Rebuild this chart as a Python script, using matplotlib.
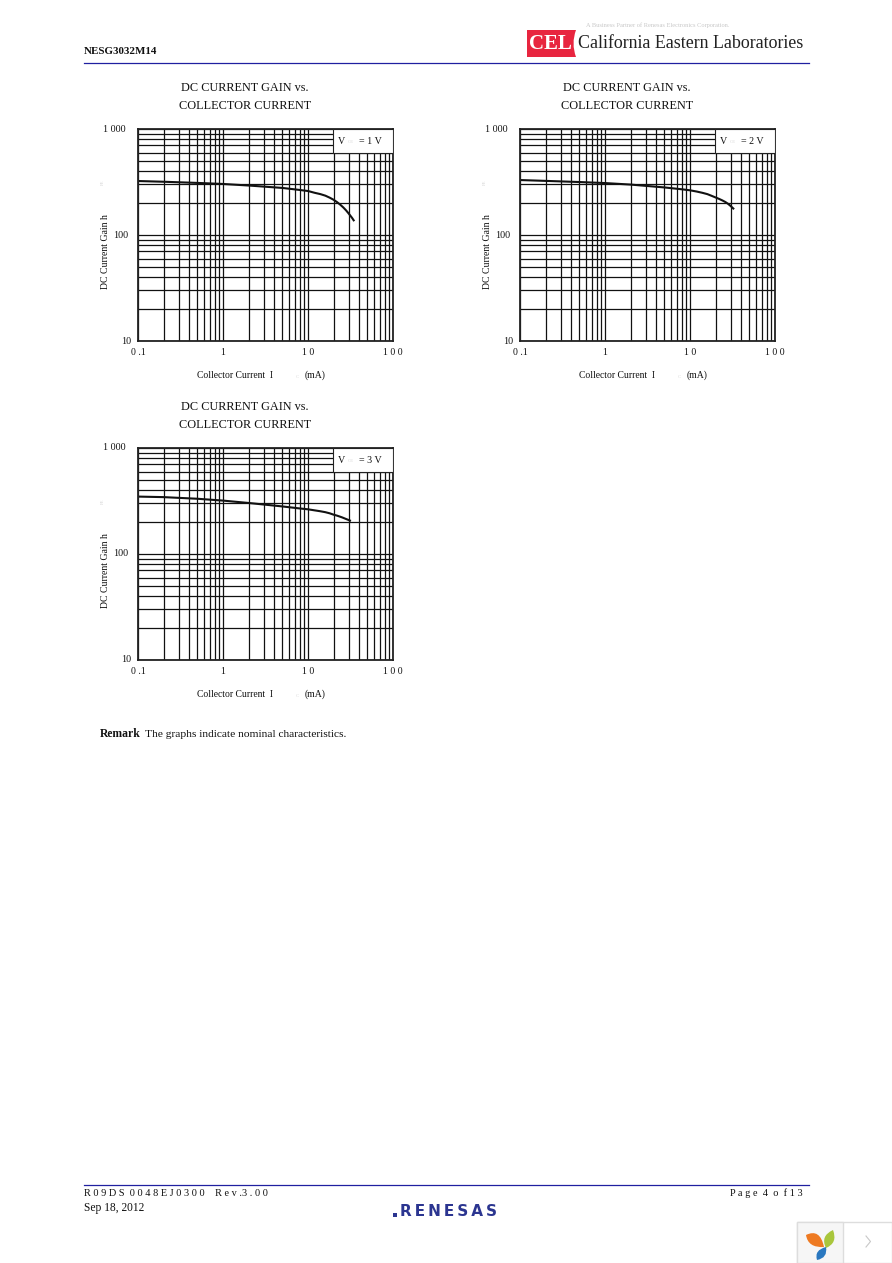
import matplotlib
matplotlib.use("Agg")
import matplotlib.pyplot as plt
from matplotlib.patches import Rectangle, PathPatch
from matplotlib.path import Path

W, H = 892, 1263
SERIF = "Liberation Serif"

current_1v = [0.1, 0.2, 0.5, 1, 2, 5, 8, 10, 12, 14, 16, 18, 20, 22, 24, 26, 28, 30, 33, 35]
gain_1v = [323, 318, 310, 303, 293, 278, 266, 260, 250, 243, 235, 225, 215, 204, 193, 182, 171, 160, 145, 135]
current_2v = [0.1, 0.2, 0.5, 1, 2, 5, 8, 10, 12, 14, 16, 18, 20, 22, 24, 26, 28, 30, 33]
gain_2v = [330, 324, 316, 309, 299, 281, 270, 264, 257, 250, 243, 234, 226, 219, 212, 205, 197, 188, 175]
current_3v = [0.1, 0.2, 0.5, 1, 2, 5, 8, 10, 12, 14, 16, 18, 20, 22, 25, 28, 32]
gain_3v = [348, 344, 332, 319, 303, 281, 269, 264, 258, 253, 248, 242, 235, 230, 222, 214, 205]

x_ticks = [0.1, 1, 10, 100]
x_tick_labels = ["0 .1", "1", "1 0", "1 0 0"]
y_ticks = [10, 100, 1000]
y_tick_labels = ["10", "100", "1 000"]
y_tick_pads = [-5.0, -7.2, -8.6]
title_lines = ["DC CURRENT GAIN vs.", "COLLECTOR CURRENT"]
y_label = "DC Current Gain h"
x_label = "Collector Current  I"
vce_labels = ["= 1 V", "= 2 V", "= 3 V"]

fig = plt.figure(figsize=(W / 100, H / 100), dpi=100, facecolor="white")


def box(left, top, right, bottom):
    return [left / W, 1 - bottom / H, (right - left) / W, (bottom - top) / H]


# page overlay in pixel coordinates
page = fig.add_axes([0, 0, 1, 1], zorder=0)
page.set_xlim(0, W)
page.set_ylim(H, 0)
page.axis("off")


def ptext(x, y, s, size=8, color="#111111", ha="left", va="center", **kw):
    kw.setdefault("family", SERIF)
    page.text(x, y, s, fontsize=size, color=color, ha=ha, va=va, **kw)


def chart(left, top, xs, ys, vce):
    right, bottom = left + 255, top + 212
    ax = fig.add_axes(box(left, top, right, bottom), zorder=2)
    ax.set_xscale("log")
    ax.set_yscale("log")
    ax.set_xlim(0.1, 100)
    ax.set_ylim(10, 1000)
    ax.grid(True, which="both", color="#111111", lw=0.9)
    ax.set_axisbelow(True)
    ax.tick_params(which="both", length=0, labelbottom=False, labelleft=False)
    for s in ax.spines.values():
        s.set_linewidth(1.3)
        s.set_color("#222222")
    ax.add_patch(Rectangle((0.7647, 0.886), 0.2353, 0.114, transform=ax.transAxes,
                           facecolor="white", edgecolor="#222222", lw=0.8, zorder=3))
    ax.plot(xs, ys, color="#111111", lw=1.5, zorder=2.5, solid_capstyle="butt")
    ax.text(0.785, 0.943, "V", transform=ax.transAxes, fontsize=7.2, family=SERIF,
            color="#111111", va="center", zorder=4)
    ax.text(0.822, 0.938, "CE", transform=ax.transAxes, fontsize=3.5, family=SERIF,
            color="#d8d8d8", va="center", zorder=4)
    ax.text(0.865, 0.943, vce, transform=ax.transAxes, fontsize=7.2, family=SERIF,
            color="#111111", va="center", zorder=4)
    for t, lab in zip(x_ticks, x_tick_labels):
        ax.annotate(lab, (t, 10), xytext=(0, -8.3), textcoords="offset points",
                    ha="center", va="center", fontsize=7, family=SERIF, color="#111111",
                    annotation_clip=False)
    for t, lab, pad in zip(y_ticks, y_tick_labels, y_tick_pads):
        ax.annotate(lab, (0.1, t), xytext=(pad, 0), textcoords="offset points",
                    ha="right", va="center", fontsize=7.2, family=SERIF, color="#111111",
                    annotation_clip=False)
    ptext(left + 107, top - 41, title_lines[0], size=8.8, ha="center")
    ptext(left + 107, top - 23, title_lines[1], size=8.8, ha="center")
    ptext(left - 33, top + 123, y_label, size=7, ha="center", rotation=90)
    ptext(left + 59, top + 249, x_label, size=6.9, va="baseline")
    ptext(left + 158, top + 249, "C", size=3.5, color="#d8d8d8", va="baseline")
    ptext(left + 167, top + 249, "(mA)", size=7, va="baseline")
    ptext(left - 35, top + 53, "FE", size=3.5, color="#d8d8d8", ha="center", rotation=90)


chart(138, 129, current_1v, gain_1v, vce_labels[0])
chart(520, 129, current_2v, gain_2v, vce_labels[1])
chart(138, 448, current_3v, gain_3v, vce_labels[2])

# header
ptext(84, 51, "NESG3032M14", size=7.9, weight="bold")
page.plot([84, 809], [62.5, 62.5], color="#2020a0", lw=0.9)
ptext(658, 25, "A Business Partner of Renesas Electronics Corporation.", size=4.6,
      color="#c8c8c8", ha="center")
cel_verts = [(527, 30), (576, 30), (571, 43.5), (576, 57), (527, 57), (527, 30)]
cel_codes = [Path.MOVETO, Path.LINETO, Path.CURVE3, Path.CURVE3, Path.LINETO, Path.CLOSEPOLY]
page.add_patch(PathPatch(Path(cel_verts, cel_codes), facecolor="#e8253f", edgecolor="none"))
ptext(550, 44, "CEL", size=15, color="white", ha="center", weight="bold")
ptext(578, 44, "California Eastern Laboratories", size=12.9, color="#222222")

# remark
ptext(100, 737, "Remark", size=8.4, weight="bold", va="baseline")
ptext(145, 737, "The graphs indicate nominal characteristics.", size=8.25, va="baseline")

# footer
page.plot([84, 809], [1184.5, 1184.5], color="#2020a0", lw=0.9)
ptext(84, 1193, "R 0 9 D S  0 0 4 8 E J 0 3 0 0    R e v .3 . 0 0", size=7.4)
ptext(84, 1208, "Sep 18, 2012", size=8.3)
ptext(803, 1193, "P a g e  4  o  f 1 3", size=7.4, ha="right")
page.text(400, 1211, "\u2009".join("RENESAS"), fontsize=11, color="#2b3590",
          family="DejaVu Sans", va="center", ha="left", weight="bold")
page.add_patch(Rectangle((392.5, 1212.5), 4, 4.5, facecolor="#2b3590", edgecolor="none"))

# corner widget
page.add_patch(Rectangle((796.5, 1221.5), 95, 41, facecolor="white", edgecolor="#dddddd", lw=1))
page.add_patch(Rectangle((796.5, 1221.5), 46, 41, facecolor="#f6f6f6", edgecolor="#dddddd", lw=1))


def leaf(pts, color):
    codes = [Path.MOVETO, Path.CURVE3, Path.CURVE3, Path.CURVE3, Path.CURVE3]
    page.add_patch(PathPatch(Path(pts, codes), facecolor=color, edgecolor="none"))


leaf([(806, 1235), (820, 1228), (824, 1247), (808, 1248), (806, 1235)], "#ee7a22")
leaf([(833, 1230), (838, 1243), (826, 1248), (820, 1236), (833, 1230)], "#a9c63c")
leaf([(826, 1247), (828, 1258), (817, 1260), (814, 1250), (826, 1247)], "#2a78c0")
page.plot([866, 870.5, 866], [1236, 1241.5, 1247], color="#c8c8c8", lw=0.8)

fig.savefig("out.png", dpi=100, facecolor="white")
